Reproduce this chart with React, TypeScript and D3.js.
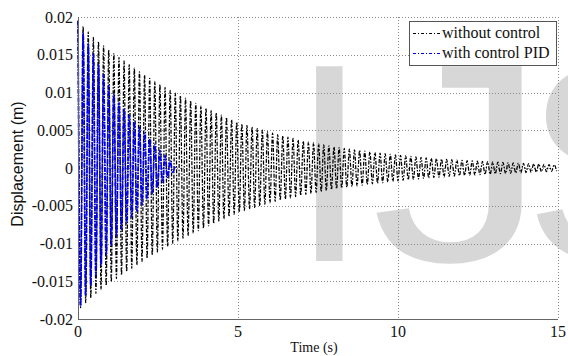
import React, { useEffect, useRef } from 'react';
import * as d3 from 'd3';

// envelope of the response without control (m)
const envTime = [0, 0.5, 1, 1.5, 2, 2.5, 3, 4, 5, 6, 7, 8, 9, 10, 11, 12, 13, 14, 15];
const noCtrlUpper = [0.0195, 0.0172, 0.0155, 0.014, 0.0125, 0.0112, 0.01, 0.0079, 0.006, 0.0047, 0.0036, 0.0028, 0.0022, 0.0017, 0.0013, 0.001, 0.0008, 0.0006, 0.0004];
const noCtrlLower = [-0.0188, -0.0168, -0.0152, -0.0138, -0.0124, -0.0111, -0.0099, -0.0078, -0.0059, -0.0046, -0.0036, -0.0028, -0.0022, -0.0017, -0.0013, -0.001, -0.0008, -0.0006, -0.0004];

// envelope of the response with the PID controller
const pidTime = [0, 0.25, 0.5, 0.75, 1, 1.25, 1.5, 2, 2.5, 3, 3.1];
const pidUpper = [0.0195, 0.017, 0.015, 0.0128, 0.0106, 0.0088, 0.0075, 0.005, 0.0026, 0.0004, 0];
const pidLower = [-0.019, -0.0168, -0.0148, -0.0126, -0.0105, -0.0087, -0.0074, -0.0049, -0.0025, -0.0004, 0];

// spacing of the vertical strokes seen in the picture (half period, s)
const halfPeriod = 0.08;

const xTicks = [0, 5, 10, 15];
const yTicks = [-0.02, -0.015, -0.01, -0.005, 0, 0.005, 0.01, 0.015, 0.02];
const yTickLabels = ['-0.02', '-0.015', '-0.01', '-0.005', '0', '0.005', '0.01', '0.015', '0.02'];
const legendLabels = ['without control', 'with control PID'];
const seriesColors = ['#000000', '#0000ee'];

const W = 568;
const H = 356;
const margin = { top: 17, right: 10, bottom: 37, left: 78 };

const peaks = (times: number[], upper: number[], lower: number[]) => {
  const up = d3.scaleLinear().domain(times).range(upper);
  const lo = d3.scaleLinear().domain(times).range(lower);
  const end = times[times.length - 1];
  const pts: [number, number][] = [];
  for (let k = 0; k * halfPeriod <= end + 1e-9; k++) {
    const t = k * halfPeriod;
    pts.push([t, k % 2 === 0 ? up(t) : lo(t)]);
  }
  return pts;
};

const App = () => {
  const svgRef = useRef<SVGSVGElement>(null);

  useEffect(() => {
    const svg = d3.select(svgRef.current);
    svg.selectAll('*').remove();

    const innerW = W - margin.left - margin.right;
    const innerH = H - margin.top - margin.bottom;

    const x = d3.scaleLinear().domain([0, 15]).range([margin.left, margin.left + innerW]);
    const y = d3.scaleLinear().domain([-0.02, 0.02]).range([margin.top + innerH, margin.top]);

    svg.append('rect').attr('width', W).attr('height', H).attr('fill', '#fff');

    // watermark
    const wm = svg.append('g')
      .style('font-family', '"Liberation Sans", Arial, sans-serif')
      .style('font-size', '283px')
      .attr('fill', '#d7d7d7');
    wm.append('text').attr('x', 290).attr('y', 261).text('I');
    wm.append('text').attr('transform', 'translate(371,261) scale(1.25,1)').text('J');
    wm.append('text').attr('x', 524).attr('y', 261).text('S');

    // grid
    const grid = svg.append('g')
      .attr('stroke', '#8a8a8a')
      .attr('stroke-width', 1)
      .attr('stroke-dasharray', '1,2');
    grid.selectAll('.gx')
      .data(xTicks.filter(d => d > 0))
      .enter().append('line')
      .attr('x1', d => Math.round(x(d)) + 0.5)
      .attr('x2', d => Math.round(x(d)) + 0.5)
      .attr('y1', y(0.02))
      .attr('y2', y(-0.02));
    grid.selectAll('.gy')
      .data(yTicks.filter(d => d > -0.02))
      .enter().append('line')
      .attr('x1', x(0))
      .attr('x2', x(15))
      .attr('y1', d => Math.round(y(d)) + 0.5)
      .attr('y2', d => Math.round(y(d)) + 0.5);

    const line = d3.line<[number, number]>()
      .x(d => x(d[0]))
      .y(d => y(d[1]))
      .curve(d3.curveMonotoneX);

    svg.append('path')
      .attr('d', line(peaks(envTime, noCtrlUpper, noCtrlLower)))
      .attr('fill', 'none')
      .attr('stroke', seriesColors[0])
      .attr('stroke-width', 1.25)
      .attr('stroke-dasharray', '4,1.5,1.5,1.5');

    svg.append('path')
      .attr('d', line(peaks(pidTime, pidUpper, pidLower)))
      .attr('fill', 'none')
      .attr('stroke', seriesColors[1])
      .attr('stroke-width', 1.7)
      .attr('stroke-dasharray', '5,1,1.5,1');

    // axes
    svg.append('line')
      .attr('x1', x(0) + 0.5).attr('x2', x(0) + 0.5)
      .attr('y1', y(0.02)).attr('y2', y(-0.02))
      .attr('stroke', '#666');
    svg.append('line')
      .attr('x1', x(0)).attr('x2', x(15))
      .attr('y1', Math.round(y(-0.02)) + 0.5).attr('y2', Math.round(y(-0.02)) + 0.5)
      .attr('stroke', '#666');

    const serif = '"Liberation Serif", "Times New Roman", serif';

    svg.selectAll('.ytick')
      .data(yTicks)
      .enter().append('text')
      .attr('x', x(0) - 5)
      .attr('y', d => y(d))
      .attr('dy', '0.35em')
      .attr('text-anchor', 'end')
      .style('font-family', serif)
      .style('font-size', '16px')
      .attr('fill', '#111')
      .text((d, i) => yTickLabels[i]);

    svg.selectAll('.xtick')
      .data(xTicks)
      .enter().append('text')
      .attr('x', d => x(d))
      .attr('y', y(-0.02) + 18)
      .attr('text-anchor', 'middle')
      .style('font-family', serif)
      .style('font-size', '16px')
      .attr('fill', '#111')
      .text(d => String(d));

    svg.append('text')
      .attr('x', 314)
      .attr('y', 352)
      .attr('text-anchor', 'middle')
      .style('font-family', serif)
      .style('font-size', '14px')
      .attr('fill', '#111')
      .text('Time (s)');

    svg.append('text')
      .attr('transform', 'translate(23,164) rotate(-90)')
      .attr('text-anchor', 'middle')
      .style('font-family', '"Liberation Sans", Arial, sans-serif')
      .style('font-size', '16px')
      .attr('fill', '#111')
      .text('Displacement (m)');

    // legend
    const legend = svg.append('g').attr('transform', 'translate(409,21)');
    legend.append('rect')
      .attr('x', 0.5).attr('y', 0.5)
      .attr('width', 147).attr('height', 44)
      .attr('fill', '#fff')
      .attr('stroke', '#555');
    legendLabels.forEach((label, i) => {
      const ly = 12 + i * 20;
      legend.append('line')
        .attr('x1', 4).attr('x2', 31)
        .attr('y1', ly + 0.5).attr('y2', ly + 0.5)
        .attr('stroke', seriesColors[i])
        .attr('stroke-dasharray', '3,2,1,2');
      legend.append('text')
        .attr('x', 33)
        .attr('y', ly + 5)
        .style('font-family', serif)
        .style('font-size', '16px')
        .attr('fill', '#111')
        .text(label);
    });
  }, []);

  return (
    <svg
      ref={svgRef}
      width={W}
      height={H}
      style={{ position: 'absolute', left: 0, top: 0, display: 'block' }}
    />
  );
};

export default App;
